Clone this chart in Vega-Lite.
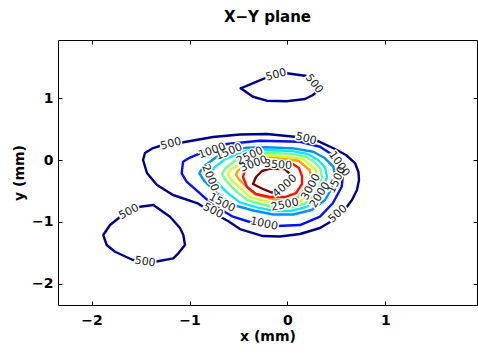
{
  "$schema": "https://vega.github.io/schema/vega-lite/v6.json",
  "width": 419,
  "height": 265,
  "autosize": {"type": "none"},
  "padding": {"left": 58, "top": 40, "right": 1, "bottom": 50},
  "title": {"text": "X−Y plane", "font": "DejaVu Sans", "fontSize": 15, "fontWeight": "bold", "color": "#000", "anchor": "middle", "baseline": "alphabetic", "frame": "group", "offset": 17, "dy": 14},
  "config": {
    "view": {"stroke": "#000", "strokeWidth": 1},
    "axis": {"domainColor": "#000", "domainWidth": 1, "tickColor": "#000", "tickSize": -4, "tickWidth": 1, "labelFont": "DejaVu Sans", "labelFontSize": 14, "labelFontWeight": "bold", "labelColor": "#000", "titleFont": "DejaVu Sans", "titleFontSize": 14, "titleFontWeight": "bold", "titleColor": "#000", "grid": false}
  },
  "datasets": {
    "contours": [
      {"c":1,"lv":500,"i":0,"x":-0.478,"y":1.160},{"c":1,"lv":500,"i":1,"x":-0.314,"y":1.267},{"c":1,"lv":500,"i":2,"x":-0.212,"y":1.335},{"c":1,"lv":500,"i":3,"x":-0.008,"y":1.403},{"c":1,"lv":500,"i":4,"x":0.196,"y":1.359},{"c":1,"lv":500,"i":5,"x":0.260,"y":1.294},{"c":1,"lv":500,"i":6,"x":0.324,"y":1.144},{"c":1,"lv":500,"i":7,"x":0.260,"y":1.052},{"c":1,"lv":500,"i":8,"x":0.179,"y":0.987},{"c":1,"lv":500,"i":9,"x":-0.008,"y":0.950},{"c":1,"lv":500,"i":10,"x":-0.212,"y":0.960},{"c":1,"lv":500,"i":11,"x":-0.352,"y":1.024},{"c":1,"lv":500,"i":12,"x":-0.478,"y":1.160},
      {"c":2,"lv":500,"i":0,"x":-1.880,"y":-1.214},{"c":2,"lv":500,"i":1,"x":-1.845,"y":-1.375},{"c":2,"lv":500,"i":2,"x":-1.760,"y":-1.484},{"c":2,"lv":500,"i":3,"x":-1.577,"y":-1.618},{"c":2,"lv":500,"i":4,"x":-1.352,"y":-1.646},{"c":2,"lv":500,"i":5,"x":-1.165,"y":-1.591},{"c":2,"lv":500,"i":6,"x":-1.114,"y":-1.510},{"c":2,"lv":500,"i":7,"x":-1.046,"y":-1.375},{"c":2,"lv":500,"i":8,"x":-1.063,"y":-1.214},{"c":2,"lv":500,"i":9,"x":-1.097,"y":-1.100},{"c":2,"lv":500,"i":10,"x":-1.199,"y":-0.917},{"c":2,"lv":500,"i":11,"x":-1.369,"y":-0.728},{"c":2,"lv":500,"i":12,"x":-1.505,"y":-0.756},{"c":2,"lv":500,"i":13,"x":-1.709,"y":-0.922},{"c":2,"lv":500,"i":14,"x":-1.811,"y":-1.052},{"c":2,"lv":500,"i":15,"x":-1.880,"y":-1.214},
      {"c":3,"lv":500,"i":0,"x":-1.474,"y":0},{"c":3,"lv":500,"i":1,"x":-1.454,"y":0.113},{"c":3,"lv":500,"i":2,"x":-1.372,"y":0.194},{"c":3,"lv":500,"i":3,"x":-1.270,"y":0.243},{"c":3,"lv":500,"i":4,"x":-1.077,"y":0.283},{"c":3,"lv":500,"i":5,"x":-0.760,"y":0.372},{"c":3,"lv":500,"i":6,"x":-0.485,"y":0.413},{"c":3,"lv":500,"i":7,"x":-0.209,"y":0.421},{"c":3,"lv":500,"i":8,"x":0.097,"y":0.372},{"c":3,"lv":500,"i":9,"x":0.311,"y":0.307},{"c":3,"lv":500,"i":10,"x":0.464,"y":0.194},{"c":3,"lv":500,"i":11,"x":0.597,"y":0.081},{"c":3,"lv":500,"i":12,"x":0.689,"y":-0.049},{"c":3,"lv":500,"i":13,"x":0.724,"y":-0.194},{"c":3,"lv":500,"i":14,"x":0.730,"y":-0.324},{"c":3,"lv":500,"i":15,"x":0.709,"y":-0.485},{"c":3,"lv":500,"i":16,"x":0.658,"y":-0.647},{"c":3,"lv":500,"i":17,"x":0.597,"y":-0.777},{"c":3,"lv":500,"i":18,"x":0.515,"y":-0.890},{"c":3,"lv":500,"i":19,"x":0.434,"y":-1.003},{"c":3,"lv":500,"i":20,"x":0.332,"y":-1.100},{"c":3,"lv":500,"i":21,"x":0.128,"y":-1.197},{"c":3,"lv":500,"i":22,"x":-0.077,"y":-1.238},{"c":3,"lv":500,"i":23,"x":-0.250,"y":-1.230},{"c":3,"lv":500,"i":24,"x":-0.485,"y":-1.117},{"c":3,"lv":500,"i":25,"x":-0.607,"y":-0.987},{"c":3,"lv":500,"i":26,"x":-0.791,"y":-0.825},{"c":3,"lv":500,"i":27,"x":-0.923,"y":-0.696},{"c":3,"lv":500,"i":28,"x":-1.168,"y":-0.566},{"c":3,"lv":500,"i":29,"x":-1.332,"y":-0.405},{"c":3,"lv":500,"i":30,"x":-1.434,"y":-0.210},{"c":3,"lv":500,"i":31,"x":-1.474,"y":0},
      {"c":4,"lv":1000,"i":0,"x":-1.066,"y":-0.028},{"c":4,"lv":1000,"i":1,"x":-1.080,"y":-0.215},{"c":4,"lv":1000,"i":2,"x":-1.029,"y":-0.351},{"c":4,"lv":1000,"i":3,"x":-0.893,"y":-0.539},{"c":4,"lv":1000,"i":4,"x":-0.760,"y":-0.728},{"c":4,"lv":1000,"i":5,"x":-0.556,"y":-0.917},{"c":4,"lv":1000,"i":6,"x":-0.352,"y":-1.019},{"c":4,"lv":1000,"i":7,"x":-0.110,"y":-1.068},{"c":4,"lv":1000,"i":8,"x":0.128,"y":-1.052},{"c":4,"lv":1000,"i":9,"x":0.332,"y":-0.917},{"c":4,"lv":1000,"i":10,"x":0.464,"y":-0.696},{"c":4,"lv":1000,"i":11,"x":0.553,"y":-0.432},{"c":4,"lv":1000,"i":12,"x":0.566,"y":-0.243},{"c":4,"lv":1000,"i":13,"x":0.536,"y":-0.108},{"c":4,"lv":1000,"i":14,"x":0.434,"y":0.108},{"c":4,"lv":1000,"i":15,"x":0.332,"y":0.215},{"c":4,"lv":1000,"i":16,"x":0.128,"y":0.296},{"c":4,"lv":1000,"i":17,"x":-0.281,"y":0.312},{"c":4,"lv":1000,"i":18,"x":-0.620,"y":0.259},{"c":4,"lv":1000,"i":19,"x":-0.760,"y":0.189},{"c":4,"lv":1000,"i":20,"x":-0.893,"y":0.108},{"c":4,"lv":1000,"i":21,"x":-0.995,"y":0.040},{"c":4,"lv":1000,"i":22,"x":-1.066,"y":-0.028},
      {"c":5,"lv":1500,"i":0,"x":-0.485,"y":0.189},{"c":5,"lv":1500,"i":1,"x":-0.722,"y":0.053},{"c":5,"lv":1500,"i":2,"x":-0.859,"y":-0.108},{"c":5,"lv":1500,"i":3,"x":-0.900,"y":-0.215},{"c":5,"lv":1500,"i":4,"x":-0.842,"y":-0.351},{"c":5,"lv":1500,"i":5,"x":-0.709,"y":-0.550},{"c":5,"lv":1500,"i":6,"x":-0.553,"y":-0.728},{"c":5,"lv":1500,"i":7,"x":-0.349,"y":-0.817},{"c":5,"lv":1500,"i":8,"x":-0.145,"y":-0.882},{"c":5,"lv":1500,"i":9,"x":0.059,"y":-0.882},{"c":5,"lv":1500,"i":10,"x":0.247,"y":-0.809},{"c":5,"lv":1500,"i":11,"x":0.383,"y":-0.647},{"c":5,"lv":1500,"i":12,"x":0.454,"y":-0.453},{"c":5,"lv":1500,"i":13,"x":0.490,"y":-0.270},{"c":5,"lv":1500,"i":14,"x":0.467,"y":-0.108},{"c":5,"lv":1500,"i":15,"x":0.383,"y":0.028},{"c":5,"lv":1500,"i":16,"x":0.263,"y":0.134},{"c":5,"lv":1500,"i":17,"x":0.059,"y":0.189},{"c":5,"lv":1500,"i":18,"x":-0.212,"y":0.206},{"c":5,"lv":1500,"i":19,"x":-0.416,"y":0.199},{"c":5,"lv":1500,"i":20,"x":-0.485,"y":0.189},
      {"c":6,"lv":2000,"i":0,"x":-0.427,"y":0.147},{"c":6,"lv":2000,"i":1,"x":-0.630,"y":0.024},{"c":6,"lv":2000,"i":2,"x":-0.746,"y":-0.123},{"c":6,"lv":2000,"i":3,"x":-0.781,"y":-0.220},{"c":6,"lv":2000,"i":4,"x":-0.731,"y":-0.343},{"c":6,"lv":2000,"i":5,"x":-0.618,"y":-0.524},{"c":6,"lv":2000,"i":6,"x":-0.486,"y":-0.686},{"c":6,"lv":2000,"i":7,"x":-0.312,"y":-0.766},{"c":6,"lv":2000,"i":8,"x":-0.137,"y":-0.825},{"c":6,"lv":2000,"i":9,"x":0.036,"y":-0.825},{"c":6,"lv":2000,"i":10,"x":0.196,"y":-0.759},{"c":6,"lv":2000,"i":11,"x":0.312,"y":-0.612},{"c":6,"lv":2000,"i":12,"x":0.373,"y":-0.436},{"c":6,"lv":2000,"i":13,"x":0.403,"y":-0.270},{"c":6,"lv":2000,"i":14,"x":0.384,"y":-0.123},{"c":6,"lv":2000,"i":15,"x":0.312,"y":0.000},{"c":6,"lv":2000,"i":16,"x":0.210,"y":0.098},{"c":6,"lv":2000,"i":17,"x":0.036,"y":0.147},{"c":6,"lv":2000,"i":18,"x":-0.195,"y":0.162},{"c":6,"lv":2000,"i":19,"x":-0.427,"y":0.147},
      {"c":7,"lv":2500,"i":0,"x":-0.363,"y":0.100},{"c":7,"lv":2500,"i":1,"x":-0.538,"y":-0.010},{"c":7,"lv":2500,"i":2,"x":-0.638,"y":-0.142},{"c":7,"lv":2500,"i":3,"x":-0.668,"y":-0.228},{"c":7,"lv":2500,"i":4,"x":-0.625,"y":-0.339},{"c":7,"lv":2500,"i":5,"x":-0.528,"y":-0.500},{"c":7,"lv":2500,"i":6,"x":-0.414,"y":-0.645},{"c":7,"lv":2500,"i":7,"x":-0.264,"y":-0.716},{"c":7,"lv":2500,"i":8,"x":-0.114,"y":-0.769},{"c":7,"lv":2500,"i":9,"x":0.036,"y":-0.769},{"c":7,"lv":2500,"i":10,"x":0.174,"y":-0.710},{"c":7,"lv":2500,"i":11,"x":0.273,"y":-0.578},{"c":7,"lv":2500,"i":12,"x":0.326,"y":-0.421},{"c":7,"lv":2500,"i":13,"x":0.352,"y":-0.273},{"c":7,"lv":2500,"i":14,"x":0.336,"y":-0.142},{"c":7,"lv":2500,"i":15,"x":0.273,"y":-0.032},{"c":7,"lv":2500,"i":16,"x":0.186,"y":0.056},{"c":7,"lv":2500,"i":17,"x":0.036,"y":0.100},{"c":7,"lv":2500,"i":18,"x":-0.163,"y":0.113},{"c":7,"lv":2500,"i":19,"x":-0.363,"y":0.100},
      {"c":8,"lv":3000,"i":0,"x":-0.336,"y":0.061},{"c":8,"lv":3000,"i":1,"x":-0.580,"y":-0.154},{"c":8,"lv":3000,"i":2,"x":-0.607,"y":-0.231},{"c":8,"lv":3000,"i":3,"x":-0.569,"y":-0.329},{"c":8,"lv":3000,"i":4,"x":-0.380,"y":-0.601},{"c":8,"lv":3000,"i":5,"x":-0.114,"y":-0.712},{"c":8,"lv":3000,"i":6,"x":0.020,"y":-0.712},{"c":8,"lv":3000,"i":7,"x":0.142,"y":-0.659},{"c":8,"lv":3000,"i":8,"x":0.278,"y":-0.403},{"c":8,"lv":3000,"i":9,"x":0.301,"y":-0.271},{"c":8,"lv":3000,"i":10,"x":0.286,"y":-0.154},{"c":8,"lv":3000,"i":11,"x":0.153,"y":0.022},{"c":8,"lv":3000,"i":12,"x":-0.158,"y":0.073},{"c":8,"lv":3000,"i":13,"x":-0.336,"y":0.061},
      {"c":9,"lv":3500,"i":0,"x":-0.297,"y":0.022},{"c":9,"lv":3500,"i":1,"x":-0.503,"y":-0.165},{"c":9,"lv":3500,"i":2,"x":-0.526,"y":-0.231},{"c":9,"lv":3500,"i":3,"x":-0.494,"y":-0.316},{"c":9,"lv":3500,"i":4,"x":-0.335,"y":-0.552},{"c":9,"lv":3500,"i":5,"x":-0.110,"y":-0.648},{"c":9,"lv":3500,"i":6,"x":0.003,"y":-0.648},{"c":9,"lv":3500,"i":7,"x":0.106,"y":-0.602},{"c":9,"lv":3500,"i":8,"x":0.220,"y":-0.380},{"c":9,"lv":3500,"i":9,"x":0.240,"y":-0.266},{"c":9,"lv":3500,"i":10,"x":0.228,"y":-0.165},{"c":9,"lv":3500,"i":11,"x":0.115,"y":-0.012},{"c":9,"lv":3500,"i":12,"x":-0.147,"y":0.032},{"c":9,"lv":3500,"i":13,"x":-0.297,"y":0.022},
      {"c":10,"lv":4000,"i":0,"x":-0.454,"y":-0.275},{"c":10,"lv":4000,"i":1,"x":-0.434,"y":-0.162},{"c":10,"lv":4000,"i":2,"x":-0.352,"y":-0.065},{"c":10,"lv":4000,"i":3,"x":-0.179,"y":-0.032},{"c":10,"lv":4000,"i":4,"x":0.026,"y":-0.032},{"c":10,"lv":4000,"i":5,"x":0.117,"y":-0.129},{"c":10,"lv":4000,"i":6,"x":0.148,"y":-0.259},{"c":10,"lv":4000,"i":7,"x":0.148,"y":-0.388},{"c":10,"lv":4000,"i":8,"x":0.087,"y":-0.534},{"c":10,"lv":4000,"i":9,"x":-0.026,"y":-0.599},{"c":10,"lv":4000,"i":10,"x":-0.179,"y":-0.599},{"c":10,"lv":4000,"i":11,"x":-0.321,"y":-0.550},{"c":10,"lv":4000,"i":12,"x":-0.413,"y":-0.437},{"c":10,"lv":4000,"i":13,"x":-0.454,"y":-0.275},
      {"c":11,"lv":4500,"i":0,"x":-0.352,"y":-0.388},{"c":11,"lv":4500,"i":1,"x":-0.321,"y":-0.275},{"c":11,"lv":4500,"i":2,"x":-0.260,"y":-0.178},{"c":11,"lv":4500,"i":3,"x":-0.179,"y":-0.138},{"c":11,"lv":4500,"i":4,"x":-0.026,"y":-0.146},{"c":11,"lv":4500,"i":5,"x":0.056,"y":-0.275},{"c":11,"lv":4500,"i":6,"x":0.015,"y":-0.421},{"c":11,"lv":4500,"i":7,"x":-0.077,"y":-0.502},{"c":11,"lv":4500,"i":8,"x":-0.158,"y":-0.526},{"c":11,"lv":4500,"i":9,"x":-0.250,"y":-0.469},{"c":11,"lv":4500,"i":10,"x":-0.352,"y":-0.388}
    ],
    "labels": [
      {"t":"500","x":-0.117,"y":1.375,"a":-15},
      {"t":"500","x":0.270,"y":1.230,"a":52},
      {"t":"500","x":-1.617,"y":-0.841,"a":-28},
      {"t":"500","x":-1.454,"y":-1.650,"a":8},
      {"t":"500","x":-1.189,"y":0.259,"a":-15},
      {"t":"500","x":0.189,"y":0.340,"a":14},
      {"t":"500","x":-0.760,"y":-0.825,"a":27},
      {"t":"500","x":0.515,"y":-0.874,"a":-42},
      {"t":"1000","x":-0.770,"y":0.146,"a":-20},
      {"t":"1000","x":0.526,"y":-0.065,"a":55},
      {"t":"1000","x":-0.240,"y":-1.036,"a":12},
      {"t":"1500","x":-0.597,"y":0.129,"a":-22},
      {"t":"1500","x":-0.668,"y":-0.696,"a":28},
      {"t":"1500","x":0.505,"y":-0.324,"a":-65},
      {"t":"2000","x":-0.791,"y":-0.291,"a":68},
      {"t":"2000","x":0.332,"y":-0.566,"a":-58},
      {"t":"2500","x":-0.383,"y":0.065,"a":-25},
      {"t":"2500","x":-0.026,"y":-0.728,"a":-12},
      {"t":"3000","x":-0.342,"y":-0.065,"a":-20},
      {"t":"3000","x":0.240,"y":-0.437,"a":-62},
      {"t":"3500","x":-0.097,"y":-0.081,"a":5},
      {"t":"4000","x":-0.026,"y":-0.421,"a":-42}
    ]
  },
  "resolve": {"axis": {"x": "independent", "y": "independent"}},
  "layer": [
    {
      "data": {"name": "contours"},
      "mark": {"type": "line", "strokeWidth": 2.4, "strokeJoin": "round", "strokeCap": "round"},
      "encoding": {
        "x": {"field": "x", "type": "quantitative", "scale": {"domain": [-2.342, 1.934], "nice": false, "zero": false},
              "axis": {"orient": "bottom", "values": [-2, -1, 0, 1], "format": "d", "title": "x (mm)", "labelPadding": 12, "titlePadding": 2, "domain": false}},
        "y": {"field": "y", "type": "quantitative", "scale": {"domain": [-2.346, 1.942], "nice": false, "zero": false},
              "axis": {"orient": "left", "values": [-2, -1, 0, 1], "format": "d", "title": "y (mm)", "labelPadding": 9, "titlePadding": 5, "domain": false}},
        "color": {"field": "lv", "type": "ordinal", "legend": null,
                  "scale": {"domain": [500, 1000, 1500, 2000, 2500, 3000, 3500, 4000, 4500],
                            "range": ["#00008F", "#0010FF", "#0090FF", "#10E8F0", "#70FF90", "#D0FF30", "#FFA000", "#FF1000", "#800000"]}},
        "detail": {"field": "c"},
        "order": {"field": "i", "type": "quantitative"}
      }
    },
    {
      "data": {"name": "labels"},
      "mark": {"type": "text", "font": "DejaVu Sans", "fontSize": 11, "stroke": "#fff", "strokeWidth": 3, "fill": "#fff", "align": "center", "baseline": "middle"},
      "encoding": {
        "x": {"field": "x", "type": "quantitative", "axis": {"orient": "top", "values": [-2, -1, 0, 1], "labels": false, "title": null, "domain": false}},
        "y": {"field": "y", "type": "quantitative", "axis": {"orient": "right", "values": [-2, -1, 0, 1], "labels": false, "title": null, "domain": false}},
        "text": {"field": "t"},
        "angle": {"field": "a", "type": "quantitative", "scale": null}
      }
    },
    {
      "data": {"name": "labels"},
      "mark": {"type": "text", "font": "DejaVu Sans", "fontSize": 11, "fill": "#222", "align": "center", "baseline": "middle"},
      "encoding": {
        "x": {"field": "x", "type": "quantitative", "axis": null},
        "y": {"field": "y", "type": "quantitative", "axis": null},
        "text": {"field": "t"},
        "angle": {"field": "a", "type": "quantitative", "scale": null}
      }
    }
  ]
}
